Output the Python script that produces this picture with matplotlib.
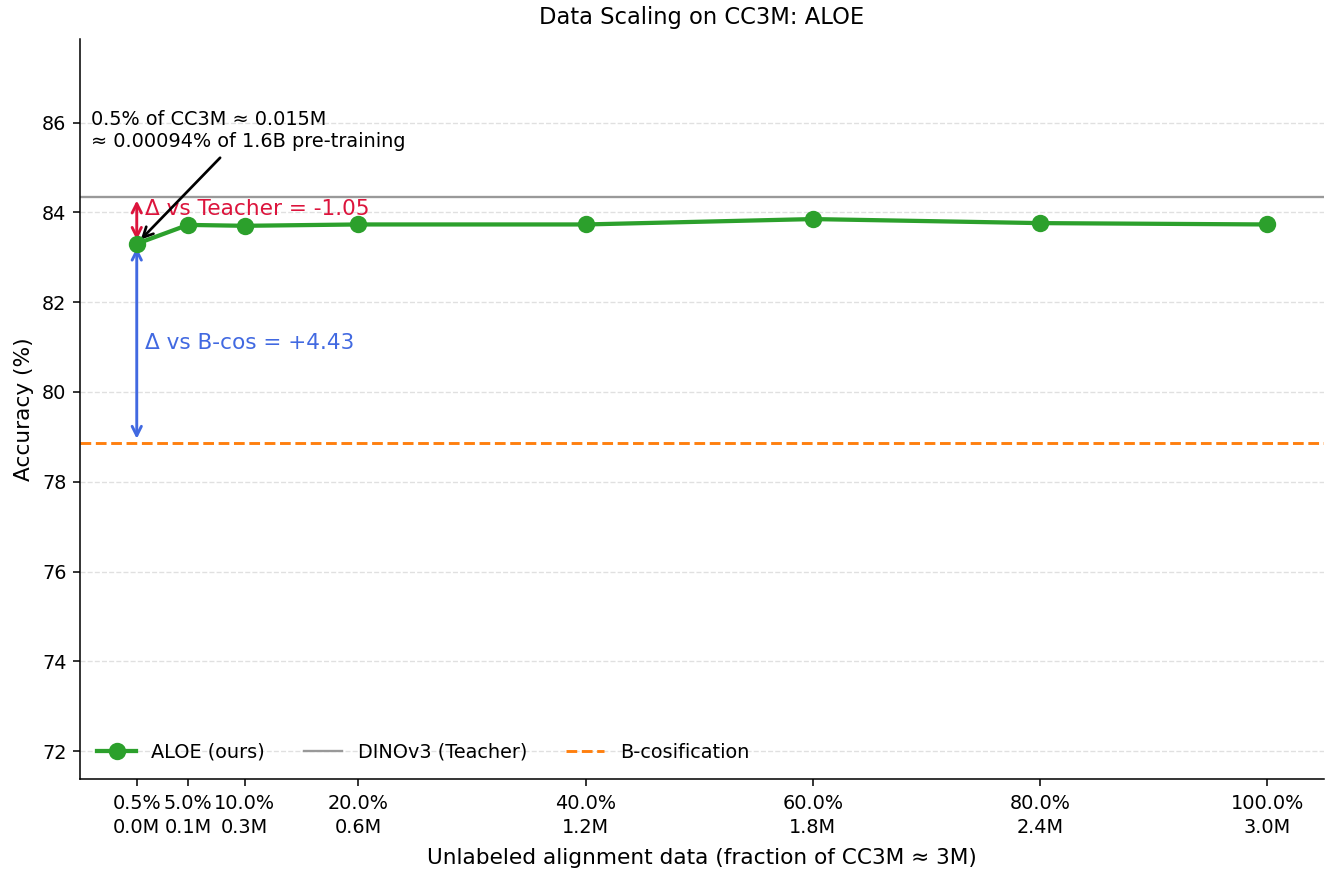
import matplotlib.pyplot as plt

# data
fractions = [0.5, 5.0, 10.0, 20.0, 40.0, 60.0, 80.0, 100.0]
samples_m = [0.015, 0.15, 0.3, 0.6, 1.2, 1.8, 2.4, 3.0]
aloe_acc = [83.30, 83.72, 83.70, 83.73, 83.73, 83.85, 83.76, 83.73]
teacher_acc = 84.35
bcos_acc = 78.87

tick_labels = ["{0:.1f}%\n{1:.1f}M".format(f, m) for f, m in zip(fractions, samples_m)]
tick_labels[0] = "0.5%\n0.0M"

DPI = 139
fig = plt.figure(figsize=(1328 / DPI, 871 / DPI), dpi=DPI)
ax = fig.add_axes([0.0602, 0.1057, 0.9368, 0.850])

ax.plot(fractions, aloe_acc, color="#2ca02c", lw=2.2, marker="o", ms=8,
        label="ALOE (ours)", zorder=4)
ax.axhline(teacher_acc, color="#999999", lw=1.2, label="DINOv3 (Teacher)")
ax.axhline(bcos_acc, color="#ff7f0e", lw=1.5, ls="--", label="B-cosification")

# delta arrows at the smallest data fraction
x0 = fractions[0]
y0 = aloe_acc[0]
ax.annotate("", xy=(x0, teacher_acc), xytext=(x0, y0),
            arrowprops=dict(arrowstyle="<->", color="#DC143C", lw=1.5, mutation_scale=12))
ax.text(x0 + 0.7, (teacher_acc + y0) / 2 + 0.24, "Δ vs Teacher = {0:.2f}".format(y0 - teacher_acc),
        color="#DC143C", fontsize=11.2, va="center")
ax.annotate("", xy=(x0, bcos_acc), xytext=(x0, y0),
            arrowprops=dict(arrowstyle="<->", color="#4169E1", lw=1.5, mutation_scale=12))
ax.text(x0 + 0.7, 81.1, "Δ vs B-cos = +{0:.2f}".format(y0 - bcos_acc),
        color="#4169E1", fontsize=11.2, va="center")

ax.annotate("0.5% of CC3M ≈ 0.015M\n≈ 0.00094% of 1.6B pre-training",
            xy=(x0, y0), xytext=(-3.5, 85.82), fontsize=10, va="center",
            arrowprops=dict(arrowstyle="->", color="black", lw=1.4, mutation_scale=13,
                            shrinkA=2, shrinkB=3, relpos=(0.43, 0)),
            )

ax.set_xlim(-4.5, 105)
ax.set_ylim(71.38, 87.87)
ax.set_xticks(fractions)
ax.set_xticklabels(tick_labels, fontsize=10, linespacing=1.3)
ax.tick_params(axis="x", pad=4.5)
ax.set_yticks(range(72, 87, 2))
ax.tick_params(axis="y", labelsize=10)
ax.grid(axis="y", linestyle="--", color="#e0e0e0", lw=0.7)
ax.set_axisbelow(True)
ax.spines["top"].set_visible(False)
ax.spines["right"].set_visible(False)

ax.set_xlabel("Unlabeled alignment data (fraction of CC3M ≈ 3M)", fontsize=11.2, labelpad=6)
ax.set_ylabel("Accuracy (%)", fontsize=11.2)
ax.set_title("Data Scaling on CC3M: ALOE", fontsize=11.7, pad=7.5)
ax.legend(loc="lower left", ncol=3, frameon=False, fontsize=10)

plt.savefig("out.png", dpi=DPI)
